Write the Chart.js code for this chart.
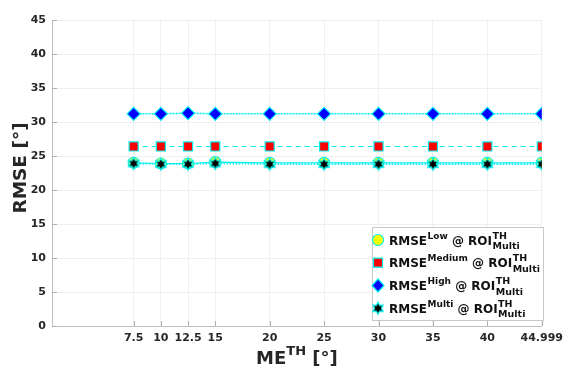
<!DOCTYPE html>
<html lang="en">
<head>
    <meta charset="UTF-8">
    <title>RMSE vs ME threshold</title>
    <style>
        html, body { margin: 0; padding: 0; background: #fff; }
        #wrap { width: 569px; height: 367px; }
    </style>
</head>
<body>
    <div id="wrap"><canvas id="rmseChart" width="569" height="367"></canvas></div>

    <script src="https://cdn.jsdelivr.net/npm/chart.js"></script>
    <script>
        // datos
        const thresholds = [7.5, 10, 12.5, 15, 20, 25, 30, 35, 40, 44.999];
        const rmseLow    = [24.0, 23.9, 23.9, 24.1, 24.0, 24.0, 24.0, 24.0, 24.0, 24.0];
        const rmseMedium = [26.4, 26.4, 26.4, 26.4, 26.4, 26.4, 26.4, 26.4, 26.4, 26.4];
        const rmseHigh   = [31.2, 31.2, 31.3, 31.2, 31.2, 31.2, 31.2, 31.2, 31.2, 31.2];
        const rmseMulti  = [23.9, 23.8, 23.8, 23.9, 23.8, 23.8, 23.8, 23.8, 23.8, 23.8];
        const xTicks = [7.5, 10, 12.5, 15, 20, 25, 30, 35, 40, 44.999];

        const legendLabels = [
            { base: 'RMSE', sup: 'Low' },
            { base: 'RMSE', sup: 'Medium' },
            { base: 'RMSE', sup: 'High' },
            { base: 'RMSE', sup: 'Multi' }
        ];

        const FONT = "'DejaVu Sans', sans-serif";
        const CYAN = '#00f0f0';

        // estrella de seis puntas como imagen de punto
        const makeStar = (r) => {
            const c = document.createElement('canvas');
            const s = Math.ceil(r * 2 + 4);
            c.width = s; c.height = s;
            const g = c.getContext('2d');
            g.translate(s / 2, s / 2);
            g.beginPath();
            for (let i = 0; i < 12; i++) {
                const a = -Math.PI / 2 + i * Math.PI / 6;
                const rr = i % 2 === 0 ? r : r * 0.55;
                g.lineTo(Math.cos(a) * rr, Math.sin(a) * rr);
            }
            g.closePath();
            g.fillStyle = '#000';
            g.fill();
            g.lineWidth = 1.2;
            g.strokeStyle = CYAN;
            g.stroke();
            return c;
        };
        const starImg = makeStar(6);

        const pts = (ys) => thresholds.map((x, i) => ({ x: x, y: ys[i] }));

        const markerDraw = (ctx, kind, x, y) => {
            ctx.save();
            ctx.lineWidth = 1.2;
            ctx.strokeStyle = CYAN;
            if (kind === 0) {
                ctx.fillStyle = '#ffff00';
                ctx.beginPath(); ctx.arc(x, y, 5.5, 0, Math.PI * 2); ctx.fill(); ctx.stroke();
            } else if (kind === 1) {
                ctx.fillStyle = '#ff0000';
                ctx.beginPath(); ctx.rect(x - 4.5, y - 4.5, 9, 9); ctx.fill(); ctx.stroke();
            } else if (kind === 2) {
                ctx.fillStyle = '#0000ff';
                ctx.beginPath();
                ctx.moveTo(x, y - 6.5); ctx.lineTo(x + 6, y); ctx.lineTo(x, y + 6.5); ctx.lineTo(x - 6, y);
                ctx.closePath(); ctx.fill(); ctx.stroke();
            } else {
                ctx.drawImage(starImg, x - starImg.width / 2, y - starImg.height / 2);
            }
            ctx.restore();
        };

        const extrasPlugin = {
            id: 'extras',
            afterDraw(chart) {
                const ctx = chart.ctx;
                const a = chart.chartArea;
                const xs = chart.scales.x, ys = chart.scales.y;

                // marcas interiores
                ctx.save();
                ctx.strokeStyle = '#b0b0b0';
                ctx.lineWidth = 1;
                ctx.beginPath();
                xTicks.forEach(v => {
                    const px = Math.round(xs.getPixelForValue(v)) + 0.5;
                    ctx.moveTo(px, a.bottom); ctx.lineTo(px, a.bottom - 5);
                });
                for (let v = 0; v <= 45; v += 5) {
                    const py = Math.round(ys.getPixelForValue(v)) + 0.5;
                    ctx.moveTo(a.left, py); ctx.lineTo(a.left + 5, py);
                }
                ctx.stroke();
                ctx.restore();

                // titulo eje y
                ctx.save();
                ctx.fillStyle = '#262626';
                ctx.font = 'bold 18.5px ' + FONT;
                ctx.textAlign = 'center';
                ctx.textBaseline = 'middle';
                ctx.translate(21, 168);
                ctx.rotate(-Math.PI / 2);
                ctx.fillText('RMSE [°]', 0, 0);
                ctx.restore();

                // titulo eje x con superindice
                ctx.save();
                ctx.fillStyle = '#262626';
                ctx.textBaseline = 'alphabetic';
                const bigF = 'bold 18px ' + FONT, supF = 'bold 13px ' + FONT;
                ctx.font = bigF; const w1 = ctx.measureText('ME').width;
                ctx.font = supF; const w2 = ctx.measureText('TH').width;
                ctx.font = bigF; const w3 = ctx.measureText(' [°]').width;
                let tx = (a.left + a.right) / 2 - (w1 + w2 + w3) / 2;
                const by = 364;
                ctx.font = bigF; ctx.fillText('ME', tx, by); tx += w1;
                ctx.font = supF; ctx.fillText('TH', tx, by - 9); tx += w2;
                ctx.font = bigF; ctx.fillText(' [°]', tx, by);
                ctx.restore();

                // leyenda
                const lx = 372, ly = 227, lw = 171, lh = 93;
                ctx.save();
                ctx.fillStyle = '#ffffff';
                ctx.fillRect(lx, ly, lw, lh);
                ctx.strokeStyle = '#c8c8c8';
                ctx.lineWidth = 1;
                ctx.strokeRect(lx + 0.5, ly + 0.5, lw, lh);
                const rowY = [240, 262.7, 285.5, 308.3];
                legendLabels.forEach((lab, i) => {
                    markerDraw(ctx, i, 378, rowY[i]);
                    const base = rowY[i] + 4.5;
                    let x = 389;
                    ctx.fillStyle = '#111';
                    ctx.font = 'bold 12px ' + FONT;
                    ctx.fillText(lab.base, x, base); x += ctx.measureText(lab.base).width + 0.5;
                    ctx.font = 'bold 9px ' + FONT;
                    ctx.fillText(lab.sup, x, base - 6); x += ctx.measureText(lab.sup).width;
                    ctx.font = 'bold 12px ' + FONT;
                    const at = ' @ ROI';
                    ctx.fillText(at, x, base); x += ctx.measureText(at).width + 0.5;
                    ctx.font = 'bold 9.5px ' + FONT;
                    ctx.fillText('TH', x, base - 6);
                    ctx.fillText('Multi', x, base + 4.5);
                });
                ctx.restore();
            }
        };

        const ds = (label, data, color, style, radius, dash, width) => ({
            label: label,
            data: pts(data),
            borderColor: CYAN,
            borderWidth: width,
            borderDash: dash,
            pointStyle: style,
            pointRadius: radius,
            pointHoverRadius: radius,
            pointBackgroundColor: color,
            pointBorderColor: CYAN,
            pointBorderWidth: 1.2,
            fill: false,
            tension: 0
        });

        const createChart = () => {
            const ctx = document.getElementById('rmseChart').getContext('2d');
            return new Chart(ctx, {
                type: 'line',
                data: {
                    datasets: [
                        ds('Multi', rmseMulti, '#000', starImg, 6, [1.5, 1.5], 1.5),
                        ds('High', rmseHigh, '#0000ff', 'rectRot', 6.5, [2, 1], 1.5),
                        ds('Medium', rmseMedium, '#ff0000', 'rect', 6.4, [5, 4], 1.2),
                        ds('Low', rmseLow, '#ffff00', 'circle', 5.5, [], 1.2)
                    ]
                },
                options: {
                    responsive: false,
                    animation: false,
                    layout: { padding: { left: 0, right: 27, top: 20, bottom: 0 } },
                    plugins: {
                        legend: { display: false },
                        tooltip: { enabled: false }
                    },
                    scales: {
                        x: {
                            type: 'linear',
                            min: 0,
                            max: 45,
                            afterBuildTicks: (s) => { s.ticks = xTicks.map(v => ({ value: v })); },
                            afterFit: (s) => { s.height = 41; },
                            ticks: {
                                autoSkip: false,
                                maxRotation: 0,
                                padding: 6,
                                color: '#262626',
                                font: { family: FONT, size: 11, weight: 'bold' },
                                callback: (v) => String(v)
                            },
                            grid: { color: '#efefef', drawTicks: false },
                            border: { color: '#c0c0c0' }
                        },
                        y: {
                            min: 0,
                            max: 45,
                            afterFit: (s) => { s.width = 52; },
                            ticks: {
                                stepSize: 5,
                                padding: 6,
                                color: '#262626',
                                font: { family: FONT, size: 11, weight: 'bold' }
                            },
                            grid: { color: '#efefef', drawTicks: false },
                            border: { color: '#c0c0c0' }
                        }
                    }
                },
                plugins: [extrasPlugin]
            });
        };

        createChart();
    </script>
</body>
</html>
